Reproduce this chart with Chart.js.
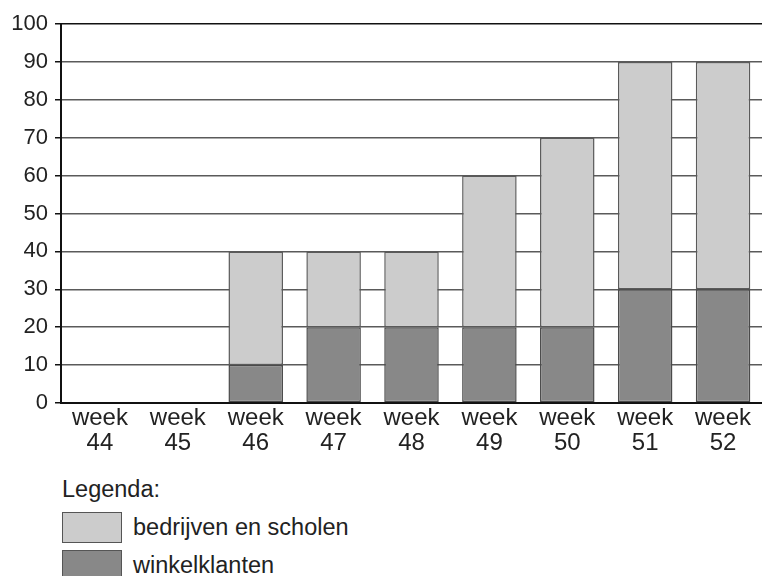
<!DOCTYPE html>
<html>
<head>
<meta charset="utf-8">
<script src="https://cdn.jsdelivr.net/npm/chart.js@4"></script>
<style>
  body { margin: 0; background: #fff; font-family: "Liberation Sans", Arial, sans-serif; color: #222; }
  #wrap { position: relative; width: 762px; height: 576px; }
  #chart { position: absolute; left: 0; top: 0; }
  .legend { position: absolute; left: 62px; font-size: 23.5px; }
  .item { position: absolute; left: 62px; height: 31px; display: flex; align-items: center; font-size: 23.5px; }
  .box { width: 58px; height: 29px; border: 1.5px solid #555; margin-right: 11px; }
</style>
</head>
<body>
<div id="wrap">
  <canvas id="chart" width="762" height="470"></canvas>
  <div class="legend" style="top:476px;">Legenda:</div>
  <div class="item" style="top:512px;"><div class="box" style="background:#cccccc"></div>bedrijven en scholen</div>
  <div class="item" style="top:550px;"><div class="box" style="background:#888888"></div>winkelklanten</div>
</div>
<script>
const weeks = ['44', '45', '46', '47', '48', '49', '50', '51', '52'];
const winkelklanten = [0, 0, 10, 20, 20, 20, 20, 30, 30];
const bedrijvenScholen = [0, 0, 30, 20, 20, 40, 50, 60, 60];
const yTicks = [0, 10, 20, 30, 40, 50, 60, 70, 80, 90, 100];

const ctx = document.getElementById('chart').getContext('2d');

new Chart(ctx, {
  type: 'bar',
  data: {
    labels: weeks.map(w => ['week', w]),
    datasets: [
      {
        label: 'winkelklanten',
        data: winkelklanten,
        backgroundColor: '#888888',
        borderColor: '#4a4a4a',
        borderWidth: 1.5,
        borderSkipped: false,
        categoryPercentage: 0.7,
        barPercentage: 1
      },
      {
        label: 'bedrijven en scholen',
        data: bedrijvenScholen,
        backgroundColor: '#cccccc',
        borderColor: '#5a5a5a',
        borderWidth: 1.5,
        borderSkipped: false,
        categoryPercentage: 0.7,
        barPercentage: 1
      }
    ]
  },
  options: {
    responsive: false,
    animation: false,
    layout: { padding: { top: 24, left: 0, right: 0, bottom: 0 } },
    plugins: {
      legend: { display: false },
      tooltip: { enabled: false }
    },
    scales: {
      x: {
        stacked: true,
        grid: { display: false, drawTicks: false },
        border: { color: '#111', width: 2 },
        ticks: {
          color: '#222',
          padding: 3,
          maxRotation: 0,
          font: { family: 'Liberation Sans', size: 24, lineHeight: 1.04 }
        },
        afterFit: scale => { scale.height = 67; }
      },
      y: {
        stacked: true,
        min: 0,
        max: 100,
        afterBuildTicks: scale => { scale.ticks = yTicks.map(v => ({ value: v })); },
        grid: {
          color: c => (c.tick && c.tick.value === 100 ? '#111' : '#5a5a5a'),
          lineWidth: 1.5,
          tickLength: 6,
          tickColor: '#111'
        },
        border: { color: '#111', width: 2 },
        ticks: {
          color: '#222',
          padding: 7,
          font: { family: 'Liberation Sans', size: 22 }
        },
        afterFit: scale => { scale.width = 61; }
      }
    }
  }
});
</script>
</body>
</html>
